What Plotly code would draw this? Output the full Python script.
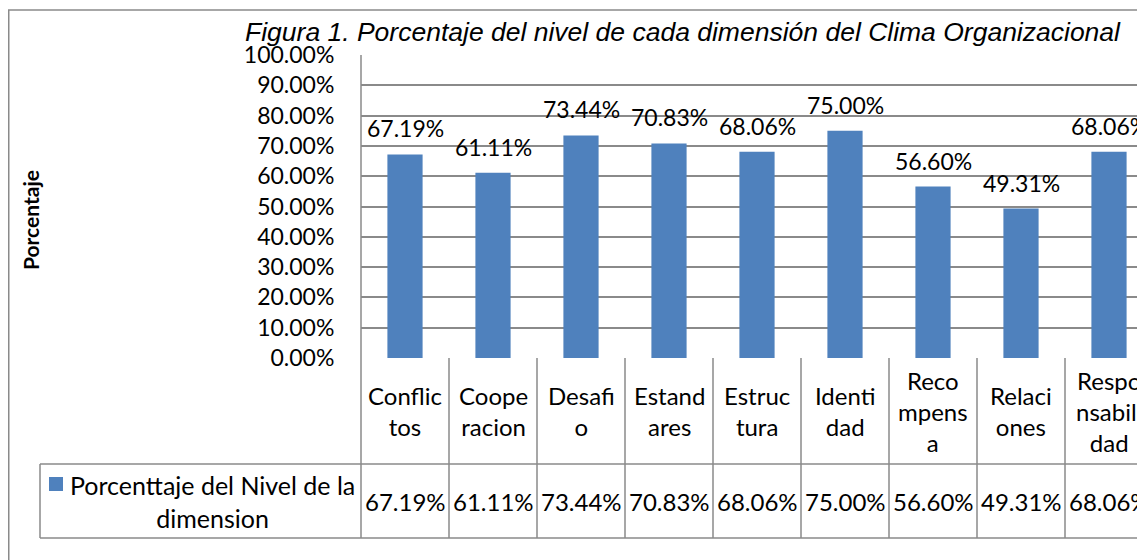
import plotly.graph_objects as go

categories = ["Conflictos", "Cooperacion", "Desafio", "Estandares", "Estructura",
              "Identidad", "Recompensa", "Relaciones", "Responsabilidad"]
header_labels = ["Conflic<br>tos", "Coope<br>racion", "Desafi<br>o", "Estand<br>ares",
                 "Estruc<br>tura", "Identi<br>dad", "Reco<br>mpens<br>a", "Relaci<br>ones",
                 "Respo<br>nsabili<br>dad"]
values = [67.19, 61.11, 73.44, 70.83, 68.06, 75.00, 56.60, 49.31, 68.06]
series_name = "Porcenttaje del Nivel de la<br>dimension"
title_text = "Figura 1. Porcentaje del nivel de cada dimensión del Clima Organizacional"
y_title = "Porcentaje"

OFF = 8  # page body margin
W, H = 1145, 560
# pixel positions measured in screen coordinates, converted to figure coordinates
PL, PT, PB = 361 - OFF, 55 - OFF, 358 - OFF
COLW = 88.0
PR = PL + 9 * COLW
FONT = "Lato"
FS = 23
FS_TABLE = 24
BAR = "#4F81BD"
GRID = "#8a8a8a"

def px(x):
    return (x - OFF - PL) / (PR - PL)

def py(y):
    return (PB - (y - OFF)) / (PB - PT)

n = len(categories)

fig = go.Figure()
fig.add_trace(go.Bar(
    x=list(range(n)), y=[v / 100 for v in values], width=0.4,
    marker=dict(color=BAR, line=dict(width=0)),
    showlegend=False, hoverinfo="skip",
))

shapes = []
line = dict(color=GRID, width=1.5)
# outer chart border
shapes.append(dict(type="rect", xref="paper", yref="paper", x0=px(8.75), x1=px(1200),
                   y0=py(620), y1=py(10), line=dict(color="#8a8a8a", width=1.5), layer="below"))
# left plot border extended to table bottom
shapes.append(dict(type="line", xref="paper", yref="paper", x0=0, x1=0, y0=py(538), y1=1, line=line))
# table horizontal lines
for yy in (464, 538):
    shapes.append(dict(type="line", xref="paper", yref="paper", x0=px(40), x1=px(1200),
                       y0=py(yy), y1=py(yy), line=line))
# legend cell left border
shapes.append(dict(type="line", xref="paper", yref="paper", x0=px(40), x1=px(40),
                   y0=py(538), y1=py(464), line=line))
# column boundaries
for k in range(n):
    shapes.append(dict(type="line", xref="x", yref="paper", x0=k + 0.5, x1=k + 0.5,
                       y0=py(538), y1=0, line=line))
# legend marker
shapes.append(dict(type="rect", xref="paper", yref="paper", x0=px(49), x1=px(63),
                   y0=py(491), y1=py(477), fillcolor=BAR, line=dict(width=0)))

annotations = []
for k in range(n):
    # data label above the bar
    annotations.append(dict(x=k, y=values[k] / 100, xref="x", yref="y", text=f"{values[k]:.2f}%",
                            showarrow=False, font=dict(family=FONT, size=FS, color="black"),
                            xanchor="center", yanchor="middle", yshift=26))
    annotations.append(dict(x=k, y=py(411), xref="x", yref="paper", text=header_labels[k],
                            showarrow=False, font=dict(family=FONT, size=FS_TABLE, color="black"),
                            xanchor="center", yanchor="middle"))
    annotations.append(dict(x=k, y=py(501), xref="x", yref="paper", text=f"{values[k]:.2f}%",
                            showarrow=False, font=dict(family=FONT, size=FS_TABLE, color="black"),
                            xanchor="center", yanchor="middle"))
annotations.append(dict(x=px(212), y=py(501), xref="paper", yref="paper", text=series_name,
                        showarrow=False, font=dict(family=FONT, size=25, color="black"),
                        xanchor="center", yanchor="middle", align="center"))
annotations.append(dict(x=px(30), y=py(220), xref="paper", yref="paper", text=f"<b>{y_title}</b>",
                        showarrow=False, textangle=-90, font=dict(family=FONT, size=21, color="black"),
                        xanchor="center", yanchor="middle"))
annotations.append(dict(x=px(683), y=py(32), xref="paper", yref="paper", text=f"<i>{title_text}</i>",
                        showarrow=False, font=dict(family="Liberation Sans", size=26.5, color="black"),
                        xanchor="center", yanchor="middle"))

fig.update_layout(
    width=W, height=H,
    margin=dict(l=PL, r=W - PR, t=PT, b=H - PB, pad=0),
    paper_bgcolor="white", plot_bgcolor="white",
    shapes=shapes, annotations=annotations,
    xaxis=dict(range=[-0.5, n - 0.5], showticklabels=False, showgrid=False, zeroline=False,
               ticks="", showline=False, fixedrange=True),
    yaxis=dict(range=[0, 1], dtick=0.1, tickformat=".2%", showgrid=True, gridcolor=GRID,
               gridwidth=1.5, zeroline=False, showline=False,
               ticks="outside", ticklen=21, tickcolor="rgba(0,0,0,0)",
               tickfont=dict(family=FONT, size=FS, color="black"), fixedrange=True),
)

fig.write_html("out.html")
